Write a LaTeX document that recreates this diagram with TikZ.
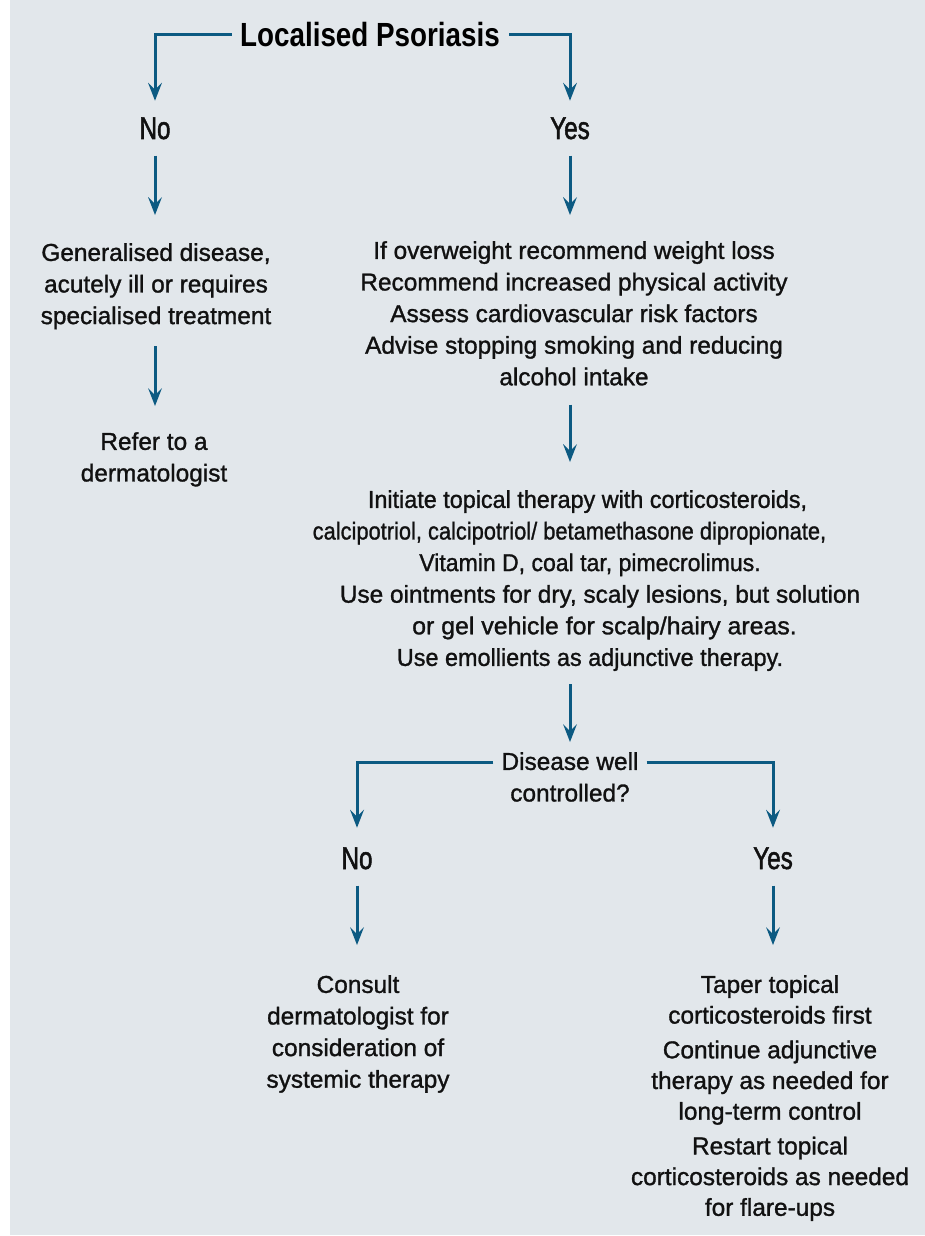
\documentclass[tikz,border=0pt]{standalone}
\usepackage{graphicx}
\usepackage{fontspec}
\setmainfont[FakeBold=1.2]{Liberation Sans}
\newfontfamily\yesfont[FakeStretch=0.77,FakeBold=1.6]{Liberation Sans}
\newfontfamily\titlefont[FakeStretch=0.83]{Liberation Sans}
\usetikzlibrary{arrows.meta}
\definecolor{bgc}{RGB}{226,231,235}
\definecolor{arrowc}{RGB}{12,90,130}
\definecolor{txtc}{RGB}{17,17,17}
\newcommand{\sxline}[2]{\scalebox{#1}[1]{#2}}
\tikzset{
  body/.style={inner sep=0pt, align=center, text=txtc, anchor=north,
    font=\fontsize{24.4pt}{31.6pt}\selectfont},
  yn/.style={inner sep=0pt, text=txtc, anchor=base,
    font=\yesfont\fontsize{31.5pt}{36pt}\selectfont},
  ttl/.style={inner sep=0pt, text=black, anchor=base,
    font=\titlefont\bfseries\fontsize{33.5pt}{38pt}\selectfont},
  arr/.style={draw=arrowc, line width=3pt,
    -{Stealth[length=18pt,width=14pt,inset=7pt,line width=0pt]}},
}
\begin{document}
\begin{tikzpicture}[x=1pt,y=-1pt]
\useasboundingbox (0,0) rectangle (925,1236);
\fill[bgc] (10,0) rectangle (925,1235);

% nodes
\node[ttl] (title) at (370,47) {Localised Psoriasis};
\node[yn] (no) at (155,139) {No};
\node[yn] (yes) at (570,139) {Yes};
\node[body] (gen) at (156,243) {Generalised disease,\\acutely ill or requires\\specialised treatment};
\node[body] (refer) at (154,432) {Refer to a\\dermatologist};
\node[body] (life) at (574,241) {If overweight recommend weight loss\\Recommend increased physical activity\\Assess cardiovascular risk factors\\Advise stopping smoking and reducing\\alcohol intake};
\node[body] (topical) at (590,490) {\sxline{0.958}{Initiate topical therapy with corticosteroids,}\hspace*{5pt}\mbox{}\\
  \sxline{0.895}{calcipotriol, calcipotriol/ betamethasone dipropionate,}\hspace*{41pt}\mbox{}\\
  \sxline{0.944}{Vitamin D, coal tar, pimecrolimus.}\\
  \mbox{}\hspace*{20pt}Use ointments for dry, scaly lesions, but solution\\
  \mbox{}\hspace*{29pt}\sxline{1.02}{or gel vehicle for scalp/hairy areas.}\\
  \sxline{0.96}{Use emollients as adjunctive therapy.}};
\node[body] (dis) at (570,752) {Disease well\\controlled?};
\node[yn] (no2) at (357,869) {No};
\node[yn] (yes2) at (773,869) {Yes};
\node[body] (consult) at (358,975) {Consult\\dermatologist for\\consideration of\\systemic therapy};
\node[body, font=\fontsize{24.4pt}{30.7pt}\selectfont] (taper) at (770,975) {Taper topical\\corticosteroids first\\[4pt]Continue adjunctive\\therapy as needed for\\long-term control\\[4pt]Restart topical\\corticosteroids as needed\\for flare-ups};

% connectors
\draw[arr] ([xshift=-8pt,yshift=1pt]title.west) -| ([yshift=16.4pt]no.north);
\draw[arr] ([xshift=9pt,yshift=1pt]title.east) -| ([yshift=16.4pt]yes.north);
\draw[arr, shorten <=16pt, shorten >=28pt] (no.south) -- (no.south |- gen.north);
\draw[arr, shorten <=17pt, shorten >=26pt] (no.south |- gen.south) -- (no.south |- refer.north);
\draw[arr, shorten <=16pt, shorten >=26pt] (yes.south) -- (yes.south |- life.north);
\draw[arr, shorten <=19pt, shorten >=28pt] (yes.south |- life.south) -- (yes.south |- topical.north);
\draw[arr, shorten <=13pt, shorten >=10pt] (yes.south |- topical.south) -- (dis.north);
\draw[arr] ([xshift=-8pt,yshift=-10pt]dis.north west) -| ([yshift=19.4pt]no2.north);
\draw[arr] ([xshift=8pt,yshift=-10pt]dis.north east) -| ([yshift=19.4pt]yes2.north);
\draw[arr, shorten <=16pt, shorten >=30pt] (no2.south) -- (no2.south |- consult.north);
\draw[arr, shorten <=16pt, shorten >=30pt] (yes2.south) -- (yes2.south |- taper.north);
\end{tikzpicture}
\end{document}
